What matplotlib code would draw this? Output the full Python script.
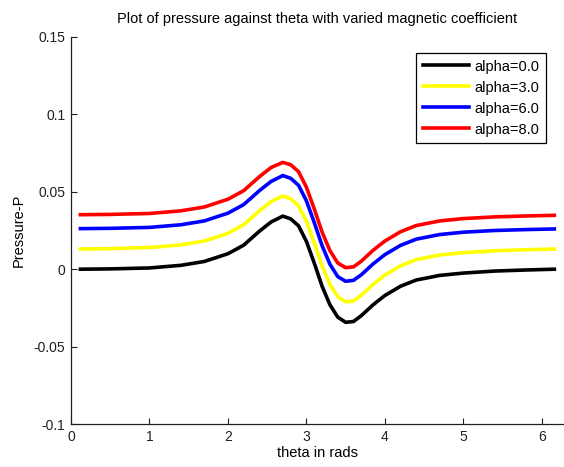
import numpy as np
import matplotlib
matplotlib.use("Agg")
import matplotlib.pyplot as plt

plt.rcParams['font.family'] = ['Liberation Sans', 'DejaVu Sans']
plt.rcParams['font.size'] = 10

# theta values (rads) and pressure for each alpha
theta = [0.12, 0.5, 1.0, 1.4, 1.7, 2.0, 2.2, 2.4, 2.55, 2.7, 2.8, 2.9, 3.0, 3.1,
         3.2, 3.3, 3.4, 3.5, 3.6, 3.7, 3.85, 4.0, 4.2, 4.4, 4.7, 5.0, 5.4, 5.8, 6.16]

p_alpha0 = [0.0000, 0.0002, 0.0008, 0.0025, 0.0050, 0.0100, 0.0155, 0.0245, 0.0305,
            0.0343, 0.0325, 0.0280, 0.0180, 0.0040, -0.0110, -0.0230, -0.0310,
            -0.0343, -0.0338, -0.0300, -0.0230, -0.0170, -0.0110, -0.0070, -0.0040,
            -0.0025, -0.0012, -0.0005, 0.0000]
p_alpha3 = [0.0130, 0.0133, 0.0140, 0.0157, 0.0182, 0.0232, 0.0287, 0.0377, 0.0437,
            0.0473, 0.0455, 0.0410, 0.0310, 0.0172, 0.0022, -0.0098, -0.0178,
            -0.0211, -0.0205, -0.0168, -0.0098, -0.0038, 0.0022, 0.0062, 0.0092,
            0.0107, 0.0119, 0.0126, 0.0130]
p_alpha6 = [0.0262, 0.0264, 0.0270, 0.0287, 0.0312, 0.0362, 0.0417, 0.0507, 0.0567,
            0.0605, 0.0587, 0.0542, 0.0442, 0.0302, 0.0152, 0.0032, -0.0048,
            -0.0078, -0.0072, -0.0036, 0.0034, 0.0094, 0.0154, 0.0194, 0.0224,
            0.0239, 0.0250, 0.0256, 0.0260]
p_alpha8 = [0.0352, 0.0354, 0.0360, 0.0377, 0.0402, 0.0452, 0.0507, 0.0597, 0.0657,
            0.0690, 0.0675, 0.0630, 0.0530, 0.0390, 0.0240, 0.0120, 0.0040,
            0.0010, 0.0015, 0.0052, 0.0122, 0.0182, 0.0242, 0.0282, 0.0312,
            0.0327, 0.0338, 0.0344, 0.0348]

series = [p_alpha0, p_alpha3, p_alpha6, p_alpha8]
labels = ['alpha=0.0', 'alpha=3.0', 'alpha=6.0', 'alpha=8.0']
colors = ['black', 'yellow', 'blue', 'red']

y_ticks = [-0.1, -0.05, 0, 0.05, 0.1, 0.15]
y_ticklabels = ['-0.1', '-0.05', '0', '0.05', '0.1', '0.15']
x_ticks = [0, 1, 2, 3, 4, 5, 6]

fig = plt.figure(figsize=(5.64, 4.67), dpi=100)
ax = fig.add_axes([71 / 564, 43 / 467, 1 - 71 / 564, (424 - 37) / 467])

for vals, lab, col in zip(series, labels, colors):
    ax.plot(theta, vals, color=col, linewidth=2.6, label=lab)

ax.set_xlim(0, 2 * np.pi)
ax.set_ylim(-0.1, 0.15)
ax.set_xticks(x_ticks)
ax.set_yticks(y_ticks)
ax.set_yticklabels(y_ticklabels)
ax.tick_params(direction='in', length=4, width=0.8, colors='#202020',
               labelsize=10, pad=4)
ax.spines['top'].set_visible(False)
ax.spines['right'].set_visible(False)
for s in ['left', 'bottom']:
    ax.spines[s].set_color('#202020')
    ax.spines[s].set_linewidth(0.9)

ax.set_title('Plot of pressure against theta with varied magnetic coefficient',
             fontsize=10.5, pad=10)
ax.set_xlabel('theta in rads', fontsize=10.5, labelpad=2)
ax.set_ylabel('Pressure-P', fontsize=10.5, labelpad=6)

leg = ax.legend(loc='upper right', bbox_to_anchor=(546 / 564, 1 - 53 / 467),
                bbox_transform=fig.transFigure, fancybox=False, framealpha=1,
                edgecolor='black', handlelength=3.2, handletextpad=0.35,
                labelspacing=0.48, borderpad=0.45, borderaxespad=0,
                fontsize=10.5)
leg.get_frame().set_linewidth(0.9)

fig.savefig('out.png', dpi=100)
